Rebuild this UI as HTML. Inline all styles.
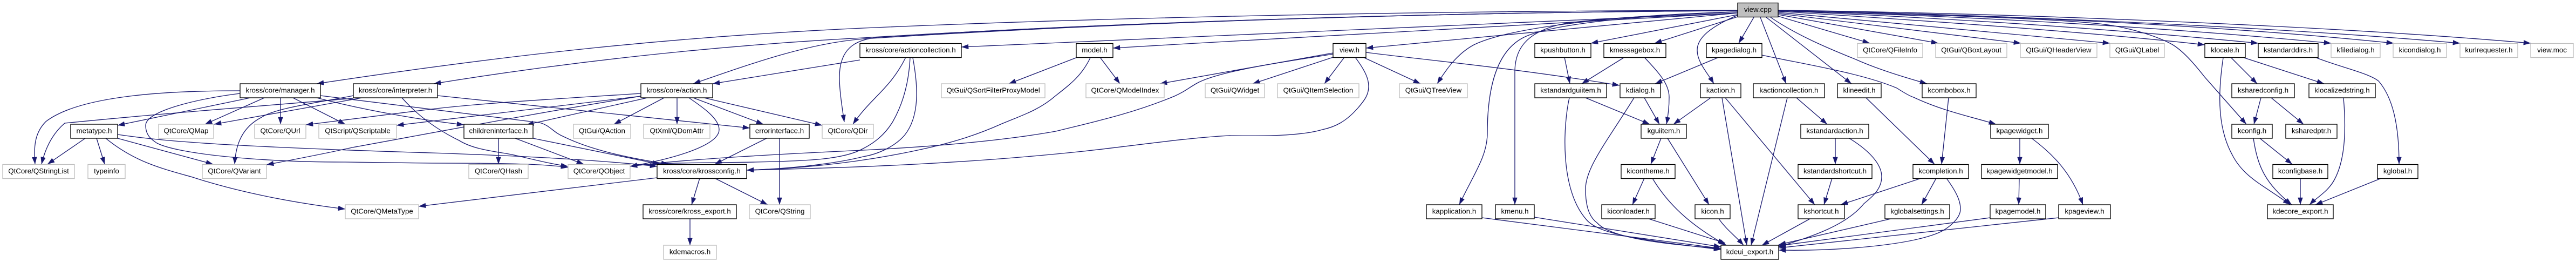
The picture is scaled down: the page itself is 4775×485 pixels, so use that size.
<!DOCTYPE html>
<html><head><meta charset="utf-8"><title>view.cpp</title>
<style>
html,body{margin:0;padding:0;background:#fff;width:4775px;height:485px;overflow:hidden}
svg{display:block}
text{font-family:"Liberation Sans",sans-serif;font-size:13.33px;text-anchor:middle;fill:#000}
</style></head><body>
<svg xmlns="http://www.w3.org/2000/svg" width="4775" height="485" viewBox="0 0 4775 485">
<defs><marker id="a" markerUnits="userSpaceOnUse" markerWidth="14" markerHeight="10" refX="13.3" refY="4.7" orient="auto"><polygon points="0,0 13.3,4.7 0,9.4" fill="#191970"/></marker></defs>
<g fill="none" stroke="#191970" stroke-width="1.33" marker-end="url(#a)">
<path d="M3221,19 C2700,20 2100,30 1600,52 C1250,68 950,100 587,155"/>
<path d="M3221,20 C2700,22 2100,40 1600,70 C1330,84 1050,115 804,155"/>
<path d="M3221,20 C2700,22 2100,40 1600,72 C1500,80 1400,115 1285,155"/>
<path d="M3221,20 C2700,22 2100,40 1640,68 C1590,71 1556,85 1556,143 C1556,170 1562,205 1565,226"/>
<path d="M3221,24 C2900,37 2400,59 1782,87"/>
<path d="M3221,24 C2961,40 2500,63 2063,89"/>
<path d="M3221,24 L2532,89"/>
<path d="M3221,22 C3000,28 2800,50 2732,83 C2700,100 2680,130 2664,155"/>
<path d="M3221,22 C3100,25 2880,40 2823,70 C2775,95 2757,160 2757,247 C2757,290 2730,325 2705,379"/>
<path d="M3221,22 C3080,28 2930,35 2885,47 C2830,62 2808,90 2808,133 L2808,379"/>
<path d="M3221,27 L2949,80"/>
<path d="M3221,31 L3067,80"/>
<path d="M3251,32 L3223,80"/>
<path d="M3221,28 C3170,50 3146,70 3146,93 C3146,115 3165,135 3177,155"/>
<path d="M3263,32 L3311,155"/>
<path d="M3274,32 L3432,155"/>
<path d="M3282,32 C3330,65 3390,90 3440,110 C3480,128 3530,143 3572,155"/>
<path d="M3296,30 L3466,80"/>
<path d="M3296,27 L3593,80"/>
<path d="M3296,25 L3746,80"/>
<path d="M3296,23 L3911,80"/>
<path d="M3296,21 C3600,40 3900,62 4087,83"/>
<path d="M3296,20 C3600,33 3900,52 4186,80"/>
<path d="M3296,20 C3600,28 3990,48 4321,80"/>
<path d="M3296,19 C3650,26 4100,45 4437,80"/>
<path d="M3296,19 C3650,26 4200,48 4560,80"/>
<path d="M3296,19 C3700,24 4300,46 4691,80"/>
<path d="M3296,20 C3600,28 3840,35 3914,47 C3960,55 4000,68 4026,82 C4045,93 4065,115 4087,143 L4164,230"/>
<path d="M2512,106 C2530,130 2537,145 2537,160 C2537,175 2530,185 2517,200 C2495,225 2475,235 2451,240 C2410,252 2340,252 2279,251 C2200,255 2100,270 2008,280 C1800,302 1600,310 1384,315"/>
<path d="M2021,107 C2005,140 1985,155 1957,177 C1925,205 1890,215 1855,230 C1810,250 1770,262 1728,272 C1650,290 1540,310 1384,315"/>
<path d="M2471,98 L2150,155"/>
<path d="M2471,100 C2400,112 2260,130 2217,155 C2200,165 2195,170 2177,178 C2100,210 2030,225 1957,243 C1850,262 1720,272 1600,278 C1450,285 1260,295 1168,308"/>
<path d="M2471,106 L2322,155"/>
<path d="M2492,106 L2455,155"/>
<path d="M2527,106 L2633,155"/>
<path d="M2532,97 C2650,112 2800,125 3002,158"/>
<path d="M1594,111 L1321,155"/>
<path d="M1679,106 C1650,165 1615,180 1581,230"/>
<path d="M1687,106 C1685,150 1675,190 1655,225 C1640,250 1620,265 1600,275 C1565,295 1500,298 1400,300 C1300,302 1220,300 1168,308"/>
<path d="M1692,107 C1702,160 1705,215 1677,250 C1660,270 1630,285 1600,290 C1540,305 1450,313 1384,315"/>
<path d="M445,168 C320,168 150,175 85,225 C65,245 62,270 65,304"/>
<path d="M445,173 C370,182 270,205 270,232 C270,250 280,258 291,265 C330,285 480,300 640,300 L800,302 C900,302 1000,302 1053,310"/>
<path d="M464,181 L218,232"/>
<path d="M490,181 L380,230"/>
<path d="M520,181 L520,230"/>
<path d="M543,181 L640,230"/>
<path d="M594,177 L1000,227 C1020,232 1025,245 1045,253 C1090,275 1150,290 1239,304"/>
<path d="M587,181 C680,205 780,222 860,231"/>
<path d="M1188,178 C1000,208 780,250 653,273 C600,285 530,298 494,305"/>
<path d="M655,182 C500,195 300,210 120,228 C100,245 85,270 77,304"/>
<path d="M655,177 C590,190 510,200 485,217 C450,235 437,265 435,304"/>
<path d="M671,181 L397,230"/>
<path d="M745,181 C775,215 810,240 851,260 C880,278 920,280 953,287 C1000,298 1030,305 1053,308"/>
<path d="M811,177 L1390,237"/>
<path d="M1188,173 C1050,182 900,190 800,202 L567,231"/>
<path d="M1188,178 L735,232"/>
<path d="M1200,181 L976,231"/>
<path d="M1231,181 L1138,230"/>
<path d="M1255,181 L1255,230"/>
<path d="M1277,181 C1305,200 1333,220 1333,240 C1333,265 1270,290 1168,308"/>
<path d="M1285,181 L1415,230"/>
<path d="M1305,181 L1524,232"/>
<path d="M924,256 L924,304"/>
<path d="M955,256 L1082,304"/>
<path d="M988,256 L1223,304"/>
<path d="M1421,256 L1325,304"/>
<path d="M1445,256 L1445,379"/>
<path d="M1297,330 L1282,379"/>
<path d="M1325,330 L1423,379"/>
<path d="M1218,329 L776,382"/>
<path d="M1279,405 L1279,454"/>
<path d="M158,256 L88,304"/>
<path d="M179,256 L194,304"/>
<path d="M218,256 L395,304"/>
<path d="M196,256 C250,300 300,312 357,328 C440,355 540,375 640,387"/>
<path d="M218,249 C280,258 330,262 408,267 C550,275 700,280 800,283 C950,288 1100,295 1218,308"/>
<path d="M1997,106 L1870,155"/>
<path d="M2039,106 L2076,155"/>
<path d="M2900,106 L2910,155"/>
<path d="M3011,106 L2932,155"/>
<path d="M3048,106 C3075,135 3094,155 3094,180 C3094,195 3092,215 3089,230"/>
<path d="M3186,106 L3068,155"/>
<path d="M3266,102 C3340,118 3450,135 3516,163 C3530,172 3540,178 3547,180 C3600,205 3650,215 3700,230"/>
<path d="M2939,181 L3058,230"/>
<path d="M2909,181 C2898,230 2890,350 2941,407 C2965,435 3050,445 3190,462"/>
<path d="M3048,181 L3076,230"/>
<path d="M3029,181 C2980,260 2939,310 2939,350 C2939,390 2950,405 2961,413 C2985,440 3080,452 3190,460"/>
<path d="M3171,181 L3102,230"/>
<path d="M3192,181 L3238,454"/>
<path d="M3198,181 L3364,379"/>
<path d="M3079,256 L3060,304"/>
<path d="M3091,256 L3168,379"/>
<path d="M3048,330 L3026,379"/>
<path d="M3063,330 C3090,375 3130,415 3200,454"/>
<path d="M3056,405 L3198,450"/>
<path d="M3186,405 C3200,425 3215,435 3232,454"/>
<path d="M2747,403 L3190,460"/>
<path d="M2844,402 L3190,457"/>
<path d="M3313,181 L3246,454"/>
<path d="M3330,181 L3387,230"/>
<path d="M3459,181 L3586,304"/>
<path d="M3612,181 L3599,304"/>
<path d="M3402,256 L3402,304"/>
<path d="M3428,256 C3475,285 3488,310 3488,327 C3488,350 3470,365 3455,377 C3420,420 3350,440 3297,457"/>
<path d="M3396,330 L3381,379"/>
<path d="M3355,405 L3266,454"/>
<path d="M3561,330 L3412,379"/>
<path d="M3589,330 L3562,379"/>
<path d="M3608,330 C3630,360 3634,375 3634,387 C3634,405 3610,425 3588,433 C3530,455 3400,465 3297,463"/>
<path d="M3505,405 L3297,453"/>
<path d="M3744,256 L3744,304"/>
<path d="M3766,256 C3805,285 3840,320 3861,379"/>
<path d="M3743,330 L3742,379"/>
<path d="M3689,403 L3297,455"/>
<path d="M3816,403 L3297,459"/>
<path d="M4136,107 L4184,155"/>
<path d="M4160,107 L4308,155"/>
<path d="M4121,107 C4110,180 4112,240 4138,287 C4160,330 4200,345 4245,379"/>
<path d="M4294,107 C4340,125 4390,135 4409,150 C4435,180 4447,230 4447,304"/>
<path d="M4191,181 L4178,230"/>
<path d="M4210,181 L4270,230"/>
<path d="M4344,181 C4350,250 4345,300 4327,333 C4315,355 4295,365 4281,379"/>
<path d="M4189,256 L4249,304"/>
<path d="M4177,256 C4185,310 4200,340 4248,379"/>
<path d="M4264,330 L4264,379"/>
<path d="M4414,330 L4292,379"/>
</g>
<g fill="#fff" stroke="#000" stroke-width="1.33">
<rect x="445" y="155" width="149" height="26"/>
<rect x="655" y="155" width="156" height="26"/>
<rect x="131" y="230" width="87" height="26"/>
<rect x="1188" y="155" width="133" height="26"/>
<rect x="860" y="230" width="128" height="26"/>
<rect x="1390" y="230" width="110" height="26"/>
<rect x="1218" y="304.5" width="166" height="26"/>
<rect x="1192" y="379" width="173" height="26"/>
<rect x="1594" y="80.5" width="188" height="26"/>
<rect x="1995" y="80.5" width="68" height="26"/>
<rect x="2471" y="80.5" width="61" height="26"/>
<rect x="2845" y="80.5" width="104" height="26"/>
<rect x="2973" y="80.5" width="115" height="26"/>
<rect x="3163" y="80.5" width="103" height="26"/>
<rect x="2845" y="155" width="133" height="26"/>
<rect x="3003" y="155" width="75" height="26"/>
<rect x="3152" y="155" width="75" height="26"/>
<rect x="3042" y="230" width="84" height="26"/>
<rect x="3005" y="304.5" width="100" height="26"/>
<rect x="2644" y="379" width="103" height="26"/>
<rect x="2772" y="379" width="72" height="26"/>
<rect x="2969" y="379" width="99" height="26"/>
<rect x="3142" y="379" width="65" height="26"/>
<rect x="3190" y="454" width="107" height="26"/>
<rect x="3250" y="155" width="132" height="26"/>
<rect x="3406" y="155" width="81" height="26"/>
<rect x="3563" y="155" width="100" height="26"/>
<rect x="3338" y="230" width="126" height="26"/>
<rect x="3690" y="230" width="107" height="26"/>
<rect x="3333" y="304.5" width="137" height="26"/>
<rect x="3546" y="304.5" width="103" height="26"/>
<rect x="3673" y="304.5" width="141" height="26"/>
<rect x="3333" y="379" width="86" height="26"/>
<rect x="3494" y="379" width="120" height="26"/>
<rect x="3689" y="379" width="103" height="26"/>
<rect x="3816" y="379" width="96" height="26"/>
<rect x="4087" y="80.5" width="75" height="26"/>
<rect x="4186" y="80.5" width="111" height="26"/>
<rect x="4137" y="155" width="116" height="26"/>
<rect x="4280" y="155" width="123" height="26"/>
<rect x="4137" y="230" width="75" height="26"/>
<rect x="4237" y="230" width="95" height="26"/>
<rect x="4213" y="304.5" width="102" height="26"/>
<rect x="4407" y="304.5" width="75" height="26"/>
<rect x="4203" y="379" width="122" height="26"/>
<rect x="3221" y="5.5" width="75" height="26" fill="#bfbfbf"/>
</g>
<g fill="#fff" stroke="#bfbfbf" stroke-width="1.33">
<rect x="294" y="230" width="102" height="26"/>
<rect x="472" y="230" width="95" height="26"/>
<rect x="591" y="230" width="144" height="26"/>
<rect x="5" y="304.5" width="133" height="26"/>
<rect x="163" y="304.5" width="69" height="26"/>
<rect x="375" y="304.5" width="119" height="26"/>
<rect x="640" y="379" width="136" height="26"/>
<rect x="1063" y="230" width="106" height="26"/>
<rect x="1193" y="230" width="123" height="26"/>
<rect x="1524" y="230" width="95" height="26"/>
<rect x="869" y="304.5" width="110" height="26"/>
<rect x="1053" y="304.5" width="115" height="26"/>
<rect x="1389" y="379" width="113" height="26"/>
<rect x="1230" y="454" width="98" height="26"/>
<rect x="1745" y="155" width="192" height="26"/>
<rect x="2013" y="155" width="145" height="26"/>
<rect x="2234" y="155" width="110" height="26"/>
<rect x="2368" y="155" width="151" height="26"/>
<rect x="2594" y="155" width="126" height="26"/>
<rect x="3443" y="80.5" width="121" height="26"/>
<rect x="3588" y="80.5" width="132" height="26"/>
<rect x="3745" y="80.5" width="142" height="26"/>
<rect x="3911" y="80.5" width="101" height="26"/>
<rect x="4321" y="80.5" width="91" height="26"/>
<rect x="4436" y="80.5" width="99" height="26"/>
<rect x="4560" y="80.5" width="107" height="26"/>
<rect x="4691" y="80.5" width="79" height="26"/>
</g>
<g>
<text x="3258.5" y="22">view.cpp</text>
<text x="1688" y="97">kross/core/actioncollection.h</text>
<text x="2029" y="97">model.h</text>
<text x="2501.5" y="97">view.h</text>
<text x="2897" y="97">kpushbutton.h</text>
<text x="3030.5" y="97">kmessagebox.h</text>
<text x="3214.5" y="97">kpagedialog.h</text>
<text x="3503.5" y="97">QtCore/QFileInfo</text>
<text x="3654" y="97">QtGui/QBoxLayout</text>
<text x="3816" y="97">QtGui/QHeaderView</text>
<text x="3961.5" y="97">QtGui/QLabel</text>
<text x="4124.5" y="97">klocale.h</text>
<text x="4241.5" y="97">kstandarddirs.h</text>
<text x="4366.5" y="97">kfiledialog.h</text>
<text x="4485.5" y="97">kicondialog.h</text>
<text x="4613.5" y="97">kurlrequester.h</text>
<text x="4730.5" y="97">view.moc</text>
<text x="519.5" y="171.5">kross/core/manager.h</text>
<text x="733" y="171.5">kross/core/interpreter.h</text>
<text x="1254.5" y="171.5">kross/core/action.h</text>
<text x="1841" y="171.5">QtGui/QSortFilterProxyModel</text>
<text x="2085.5" y="171.5">QtCore/QModelIndex</text>
<text x="2289" y="171.5">QtGui/QWidget</text>
<text x="2443.5" y="171.5">QtGui/QItemSelection</text>
<text x="2657" y="171.5">QtGui/QTreeView</text>
<text x="2911.5" y="171.5">kstandardguiitem.h</text>
<text x="3040.5" y="171.5">kdialog.h</text>
<text x="3189.5" y="171.5">kaction.h</text>
<text x="3316" y="171.5">kactioncollection.h</text>
<text x="3446.5" y="171.5">klineedit.h</text>
<text x="3613" y="171.5">kcombobox.h</text>
<text x="4195" y="171.5">ksharedconfig.h</text>
<text x="4341.5" y="171.5">klocalizedstring.h</text>
<text x="174.5" y="246.5">metatype.h</text>
<text x="345" y="246.5">QtCore/QMap</text>
<text x="519.5" y="246.5">QtCore/QUrl</text>
<text x="663" y="246.5">QtScript/QScriptable</text>
<text x="924" y="246.5">childreninterface.h</text>
<text x="1116" y="246.5">QtGui/QAction</text>
<text x="1254.5" y="246.5">QtXml/QDomAttr</text>
<text x="1445" y="246.5">errorinterface.h</text>
<text x="1571.5" y="246.5">QtCore/QDir</text>
<text x="3084" y="246.5">kguiitem.h</text>
<text x="3401" y="246.5">kstandardaction.h</text>
<text x="3743.5" y="246.5">kpagewidget.h</text>
<text x="4174.5" y="246.5">kconfig.h</text>
<text x="4284.5" y="246.5">ksharedptr.h</text>
<text x="71.5" y="321">QtCore/QStringList</text>
<text x="197.5" y="321">typeinfo</text>
<text x="434.5" y="321">QtCore/QVariant</text>
<text x="924" y="321">QtCore/QHash</text>
<text x="1110.5" y="321">QtCore/QObject</text>
<text x="1301" y="321">kross/core/krossconfig.h</text>
<text x="3055" y="321">kicontheme.h</text>
<text x="3401.5" y="321">kstandardshortcut.h</text>
<text x="3597.5" y="321">kcompletion.h</text>
<text x="3743.5" y="321">kpagewidgetmodel.h</text>
<text x="4264" y="321">kconfigbase.h</text>
<text x="4444.5" y="321">kglobal.h</text>
<text x="708" y="395.5">QtCore/QMetaType</text>
<text x="1278.5" y="395.5">kross/core/kross_export.h</text>
<text x="1445.5" y="395.5">QtCore/QString</text>
<text x="2695.5" y="395.5">kapplication.h</text>
<text x="2808" y="395.5">kmenu.h</text>
<text x="3018.5" y="395.5">kiconloader.h</text>
<text x="3174.5" y="395.5">kicon.h</text>
<text x="3376" y="395.5">kshortcut.h</text>
<text x="3554" y="395.5">kglobalsettings.h</text>
<text x="3740.5" y="395.5">kpagemodel.h</text>
<text x="3864" y="395.5">kpageview.h</text>
<text x="4264" y="395.5">kdecore_export.h</text>
<text x="1279" y="470.5">kdemacros.h</text>
<text x="3243.5" y="470.5">kdeui_export.h</text>
</g>
</svg>
</body></html>
